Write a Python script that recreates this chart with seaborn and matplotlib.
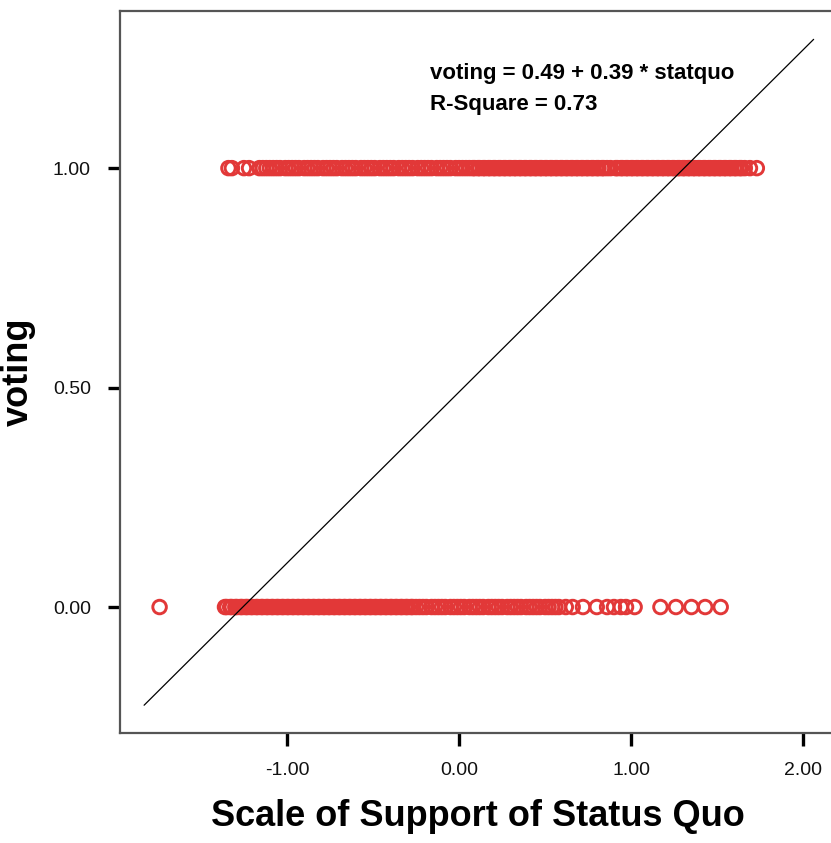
import numpy as np
import pandas as pd
import matplotlib
matplotlib.use("Agg")
import matplotlib.pyplot as plt
import seaborn as sns

# statquo scores of the respondents who voted (voting = 1)
voted_x = [
    -1.34, -1.32, -1.25, -1.22, -1.16, -1.14,
    -1.12, -1.10, -1.08, -1.06, -1.04, -1.01, -0.99, -0.97, -0.95, -0.93,
    -0.90, -0.88, -0.86, -0.84, -0.82, -0.79, -0.77, -0.75, -0.73, -0.71,
    -0.68, -0.66, -0.64, -0.62, -0.60, -0.57, -0.55, -0.53, -0.51, -0.49,
    -0.46, -0.44, -0.42, -0.40, -0.38, -0.35, -0.33, -0.31, -0.29, -0.27,
    -0.24, -0.22, -0.20, -0.18, -0.16, -0.13, -0.11, -0.09, -0.07, -0.05,
    -0.02, 0.00, 0.02, 0.04,
    0.06, 0.08, 0.09, 0.11, 0.12, 0.14, 0.15, 0.17, 0.18, 0.20, 0.21, 0.23,
    0.24, 0.26, 0.27, 0.29, 0.30, 0.32, 0.33, 0.35, 0.36, 0.38, 0.39, 0.41,
    0.42, 0.44, 0.45, 0.47, 0.48, 0.50, 0.51, 0.53, 0.54, 0.56, 0.57, 0.59,
    0.60, 0.62, 0.63, 0.65, 0.66, 0.68, 0.69, 0.71, 0.72, 0.74, 0.75, 0.77,
    0.78, 0.80, 0.81, 0.83, 0.84, 0.86, 0.88, 0.91, 0.92, 0.94, 0.95, 0.97,
    0.98, 1.00, 1.01, 1.03, 1.04, 1.06, 1.07, 1.09, 1.10, 1.12, 1.13, 1.15,
    1.16, 1.18, 1.19, 1.21, 1.22, 1.24, 1.25, 1.27, 1.28, 1.30, 1.31, 1.33,
    1.34, 1.36, 1.37, 1.39, 1.40, 1.42, 1.43, 1.45, 1.46, 1.48, 1.49, 1.51,
    1.52, 1.54, 1.55, 1.57, 1.58, 1.60, 1.61, 1.63, 1.64, 1.66, 1.69, 1.73,
]

# statquo scores of the respondents who did not vote (voting = 0)
novote_x = [
    -1.74,
    -1.36, -1.35, -1.33, -1.32, -1.30, -1.29, -1.27, -1.26, -1.24, -1.23,
    -1.21, -1.20, -1.18, -1.17, -1.15, -1.14, -1.12, -1.11, -1.09, -1.08,
    -1.06, -1.05, -1.03, -1.02, -1.00, -0.99, -0.97, -0.96, -0.94, -0.93,
    -0.91, -0.90, -0.88, -0.87, -0.85, -0.84, -0.82, -0.81, -0.79, -0.78,
    -0.76, -0.75, -0.73, -0.72, -0.70, -0.69, -0.67, -0.66, -0.64, -0.63,
    -0.61, -0.60, -0.58, -0.57, -0.55, -0.54, -0.52, -0.51, -0.49, -0.48,
    -0.46, -0.45, -0.43, -0.42, -0.40, -0.39, -0.37, -0.36, -0.34, -0.33,
    -0.31, -0.30, -0.28, -0.27, -0.25,
    -0.23, -0.21, -0.19, -0.16, -0.14, -0.12, -0.10, -0.08, -0.05, -0.03,
    -0.01, 0.01, 0.03, 0.06, 0.08, 0.10, 0.12, 0.14, 0.17, 0.19, 0.21, 0.23,
    0.25, 0.28, 0.30, 0.32, 0.34, 0.36, 0.39, 0.41, 0.43, 0.45, 0.47, 0.50,
    0.52, 0.54, 0.56, 0.58,
    0.62, 0.66, 0.72, 0.80, 0.86, 0.90, 0.94, 0.97, 1.02,
    1.17, 1.26, 1.35, 1.43, 1.52,
]

# fitted linear model shown on the chart
intercept = 0.49
slope = 0.39
r_square = 0.73
fit_range = [-1.83, 2.06]

x_ticks = [-1.0, 0.0, 1.0, 2.0]
y_ticks = [0.0, 0.5, 1.0]

df = pd.DataFrame({
    "statquo": voted_x + novote_x,
    "voting": [1.0] * len(voted_x) + [0.0] * len(novote_x),
})
fit_x = np.array(fit_range)
fit_y = intercept + slope * fit_x

sns.set_style("white")
plt.rcParams["font.family"] = ["Liberation Sans", "DejaVu Sans"]
plt.rcParams["axes.unicode_minus"] = False
plt.rcParams["text.color"] = "black"
plt.rcParams["axes.labelcolor"] = "black"

fig = plt.figure(figsize=(8.31, 8.43), dpi=100)
ax = fig.add_axes([120 / 831, 1 - 733 / 843, (836 - 120) / 831, (733 - 11) / 843])

sns.scatterplot(data=df, x="statquo", y="voting", ax=ax, marker="o", s=95,
                facecolors="none", edgecolor="#e23838", linewidth=2.1, zorder=2)
sns.lineplot(x=fit_x, y=fit_y, ax=ax, color="black", linewidth=0.9, zorder=3)

ax.set_xlim(-1.97, 2.19)
ax.set_ylim(-0.287, 1.358)
ax.set_xticks(x_ticks)
ax.set_xticklabels([f"{v:.2f}" for v in x_ticks])
ax.set_yticks(y_ticks)
ax.set_yticklabels([f"{v:.2f}" for v in y_ticks])
ax.tick_params(bottom=True, left=True, direction="out", length=9, width=2.4,
               color="black", labelsize=14, pad=12, labelcolor="#111111")

for side in ["left", "bottom", "top"]:
    ax.spines[side].set_color("#555555")
    ax.spines[side].set_linewidth(1.6)
ax.spines["right"].set_visible(False)

ax.set_xlabel("Scale of Support of Status Quo", fontsize=26, fontweight="bold",
              labelpad=14, color="black")
ax.set_ylabel("voting", fontsize=26, fontweight="bold", labelpad=12, color="black")

ax.text(-0.17, 1.216, f"voting = {intercept:.2f} + {slope:.2f} * statquo",
        fontsize=16, fontweight="bold", va="center", ha="left", color="black")
ax.text(-0.17, 1.146, f"R-Square = {r_square:.2f}",
        fontsize=16, fontweight="bold", va="center", ha="left", color="black")

fig.savefig("out.png", dpi=100)
